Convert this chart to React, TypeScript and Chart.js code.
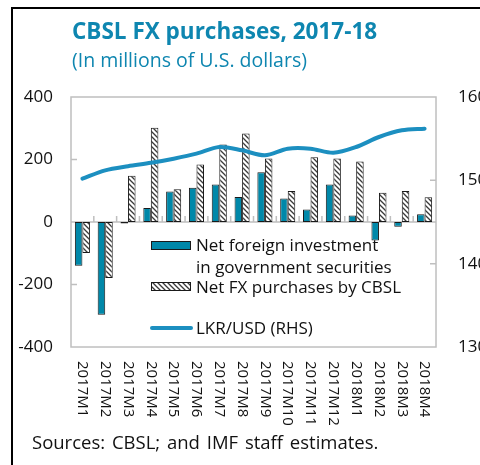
import React, { useEffect, useRef } from "react";
import { Chart, registerables } from "chart.js";

Chart.register(...registerables);

const categories = [
  "2017M1", "2017M2", "2017M3", "2017M4", "2017M5", "2017M6", "2017M7", "2017M8",
  "2017M9", "2017M10", "2017M11", "2017M12", "2018M1", "2018M2", "2018M3", "2018M4",
];
const netForeignInvestment = [-140, -297, -5, 45, 98, 110, 120, 80, 159, 75, 40, 120, 21, -59, -15, 25];
const netFxPurchases = [-99, -179, 148, 302, 105, 184, 248, 283, 203, 99, 207, 203, 194, 94, 99, 79];
const lkrUsd = [150.2, 151.2, 151.7, 152.1, 152.6, 153.2, 154.0, 153.6, 153.0, 153.8, 153.8, 153.3, 154.0, 155.2, 156.0, 156.2];
const leftTicks = [-400, -200, 0, 200, 400];
const rightTicks = [130, 140, 150, 160];

const FONT = "'Open Sans', 'Noto Sans', sans-serif";
const TEAL = "#0088A9";
const LINE = "#1C8FC0";
const TITLE = "#0E86B0";

function makeHatch(): CanvasPattern | string {
  const c = document.createElement("canvas");
  c.width = 5;
  c.height = 5;
  const g = c.getContext("2d");
  if (!g) return "#ccc";
  g.fillStyle = "#ffffff";
  g.fillRect(0, 0, 5, 5);
  g.strokeStyle = "#3a3a3a";
  g.lineWidth = 1.3;
  g.beginPath();
  g.moveTo(-1, -1);
  g.lineTo(6, 6);
  g.moveTo(-1, 4);
  g.lineTo(1, 6);
  g.moveTo(4, -1);
  g.lineTo(6, 1);
  g.stroke();
  const p = g.createPattern(c, "repeat");
  return p || "#ccc";
}

export default function App() {
  const ref = useRef<HTMLCanvasElement | null>(null);

  useEffect(() => {
    if (!ref.current) return;
    const hatch = makeHatch();

    const framePlugin = {
      id: "frame",
      beforeDatasetsDraw(chart: any) {
        const { ctx, chartArea: a } = chart;
        const x = chart.scales.x;
        const y = chart.scales.y;
        const y1 = chart.scales.y1;
        ctx.save();
        ctx.strokeStyle = "#BFBFBF";
        ctx.lineWidth = 1.5;
        ctx.strokeRect(a.left, a.top, a.right - a.left, a.bottom - a.top);
        const y0 = y.getPixelForValue(0);
        ctx.beginPath();
        ctx.moveTo(a.left, y0);
        ctx.lineTo(a.right, y0);
        for (let i = 1; i < categories.length; i++) {
          const bx = (x.getPixelForValue(i - 1) + x.getPixelForValue(i)) / 2;
          ctx.moveTo(bx, y0);
          ctx.lineTo(bx, y0 - 6);
        }
        [200, 0, -200].forEach((v) => {
          const py = y.getPixelForValue(v);
          ctx.moveTo(a.left, py);
          ctx.lineTo(a.left + 6, py);
        });
        [150, 140].forEach((v) => {
          const py = y1.getPixelForValue(v);
          ctx.moveTo(a.right, py);
          ctx.lineTo(a.right - 6, py);
        });
        ctx.stroke();
        ctx.restore();
      },
      afterDraw(chart: any) {
        const { ctx } = chart;
        const x = chart.scales.x;
        ctx.save();
        ctx.fillStyle = "#111";
        ctx.font = `15px ${FONT}`;
        ctx.textAlign = "left";
        ctx.textBaseline = "middle";
        categories.forEach((lab, i) => {
          const cx = x.getPixelForValue(i);
          ctx.save();
          ctx.translate(cx, 361);
          ctx.rotate(Math.PI / 2);
          ctx.fillText(lab, 0, 0);
          ctx.restore();
        });

        // legend
        const lx = 151;
        const tx = 196;
        ctx.font = `17px ${FONT}`;
        ctx.fillStyle = TEAL;
        ctx.fillRect(lx, 241, 40, 9);
        ctx.strokeStyle = "#1a1a1a";
        ctx.lineWidth = 1;
        ctx.strokeRect(lx + 0.5, 241.5, 39, 8);
        ctx.fillStyle = hatch as any;
        ctx.fillRect(lx, 282, 40, 9);
        ctx.strokeRect(lx + 0.5, 282.5, 39, 8);
        ctx.strokeStyle = LINE;
        ctx.lineWidth = 4;
        ctx.lineCap = "round";
        ctx.beginPath();
        ctx.moveTo(lx + 1, 328);
        ctx.lineTo(lx + 40, 328);
        ctx.stroke();
        ctx.fillStyle = "#111";
        ctx.fillText("Net foreign investment", tx, 246);
        ctx.fillText("in government securities", tx, 268);
        ctx.fillText("Net FX purchases by CBSL", tx, 288);
        ctx.fillText("LKR/USD (RHS)", tx, 329);
        ctx.restore();
      },
    };

    const chart = new Chart(ref.current, {
      type: "bar",
      data: {
        labels: categories,
        datasets: [
          {
            type: "line",
            label: "LKR/USD (RHS)",
            data: lkrUsd,
            yAxisID: "y1",
            borderColor: LINE,
            borderWidth: 4,
            pointRadius: 0,
            tension: 0.3,
            borderCapStyle: "round",
            order: 0,
          } as any,
          {
            label: "Net foreign investment in government securities",
            data: netForeignInvestment,
            yAxisID: "y",
            backgroundColor: TEAL,
            borderColor: "#1a1a1a",
            borderWidth: 1,
            borderSkipped: false,
            categoryPercentage: 0.66,
            barPercentage: 1,
            order: 1,
          },
          {
            label: "Net FX purchases by CBSL",
            data: netFxPurchases,
            yAxisID: "y",
            backgroundColor: hatch as any,
            borderColor: "#1a1a1a",
            borderWidth: 1,
            borderSkipped: false,
            categoryPercentage: 0.66,
            barPercentage: 1,
            order: 1,
          },
        ],
      },
      options: {
        responsive: false,
        animation: false,
        layout: { padding: { top: 97, left: 0, right: 0, bottom: 0 } },
        plugins: {
          legend: { display: false },
          tooltip: { enabled: false },
          title: { display: false },
        },
        scales: {
          x: {
            grid: { display: false },
            border: { display: false },
            ticks: { display: false },
            afterFit(s: any) {
              s.height = 118;
            },
          },
          y: {
            position: "left",
            min: -400,
            max: 400,
            afterBuildTicks(s: any) {
              s.ticks = leftTicks.map((v) => ({ value: v }));
            },
            grid: { display: false, drawTicks: false },
            border: { display: false },
            ticks: {
              color: "#111",
              padding: 18,
              font: { family: FONT, size: 17 },
            },
            afterFit(s: any) {
              s.width = 71;
            },
          },
          y1: {
            position: "right",
            min: 130,
            max: 160,
            afterBuildTicks(s: any) {
              s.ticks = rightTicks.map((v) => ({ value: v }));
            },
            grid: { display: false, drawTicks: false },
            border: { display: false },
            ticks: {
              color: "#111",
              padding: 22,
              font: { family: FONT, size: 17 },
            },
            afterFit(s: any) {
              s.width = 44;
            },
          },
        },
      },
      plugins: [framePlugin],
    } as any);

    return () => chart.destroy();
  }, []);

  return (
    <div
      style={{
        position: "fixed",
        left: 0,
        top: 0,
        width: 480,
        height: 465,
        background: "#fff",
        overflow: "hidden",
        fontFamily: FONT,
      }}
    >
      <canvas ref={ref} width={480} height={465} style={{ position: "absolute", left: 0, top: 0 }} />
      <div
        style={{
          position: "absolute",
          left: 11,
          top: 7,
          width: 480,
          height: 470,
          borderLeft: "2px solid #000",
          borderTop: "2px solid #000",
          pointerEvents: "none",
        }}
      />
      <div
        style={{
          position: "absolute",
          left: 72,
          top: 16,
          color: TITLE,
          fontWeight: 700,
          fontSize: 22.5,
          lineHeight: "30px",
          whiteSpace: "nowrap",
        }}
      >
        CBSL FX purchases, 2017-18
      </div>
      <div
        style={{
          position: "absolute",
          left: 72,
          top: 47,
          color: TITLE,
          fontSize: 19.5,
          lineHeight: "26px",
          whiteSpace: "nowrap",
        }}
      >
        (In millions of U.S. dollars)
      </div>
      <div
        style={{
          position: "absolute",
          left: 32,
          top: 429,
          color: "#111",
          fontSize: 18.5,
          lineHeight: "26px",
          wordSpacing: 2,
          whiteSpace: "nowrap",
        }}
      >
        Sources: CBSL; and IMF staff estimates.
      </div>
    </div>
  );
}
